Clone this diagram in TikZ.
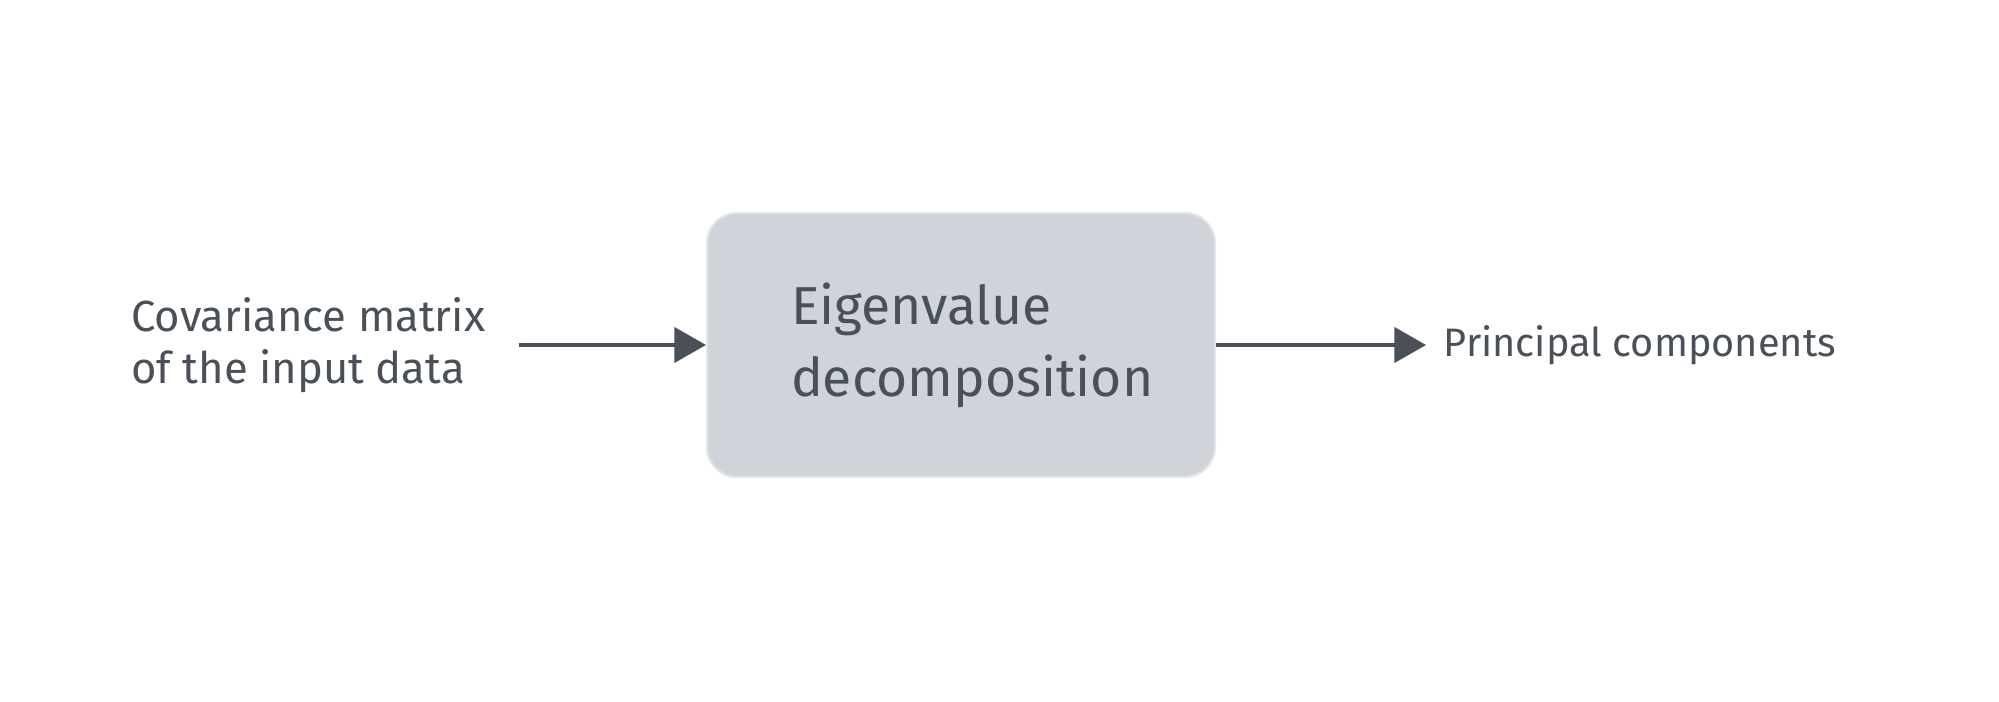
\documentclass[tikz,border=0pt]{standalone}
\usepackage{fontspec}
\setmainfont{Fira Sans}
\usepackage{xcolor}
\usepackage{tikz}
\usetikzlibrary{positioning,arrows.meta,calc}
\definecolor{inkgray}{HTML}{495057}
\definecolor{boxgray}{HTML}{CED4DA}

\begin{document}
\begin{tikzpicture}[color=inkgray,
		block/.style={draw=boxgray!60!white, line width=0.6pt, fill=boxgray, rounded corners=0.3cm,
		minimum width=5.08cm, minimum height=2.64cm, align=left, text=inkgray,
		font=\fontsize{15.2}{20.5}\selectfont},
		label/.style={align=left, text=inkgray, font=\fontsize{12.4}{14.8}\selectfont},
		flow/.style={-{Triangle[length=9pt,width=10pt]}, line width=1.05pt, draw=inkgray}]
		\useasboundingbox (0,0) rectangle (19.99,7.02);
		\node[block, text width=3.4cm] (eig) at (9.61,3.57) {Eigenvalue\\decomposition};
		\node[label, inner xsep=0.33cm, left=1.87cm of eig] (cov)
			{Covariance matrix\\of the input data};
		\node[label, inner xsep=0.17cm, right=2.1cm of eig, font=\fontsize{11.3}{14}\selectfont] (pc)
			{Principal components};
		\draw[flow] (cov) -- (eig);
		\draw[flow] (eig) -- (pc);
	\end{tikzpicture}
\end{document}
